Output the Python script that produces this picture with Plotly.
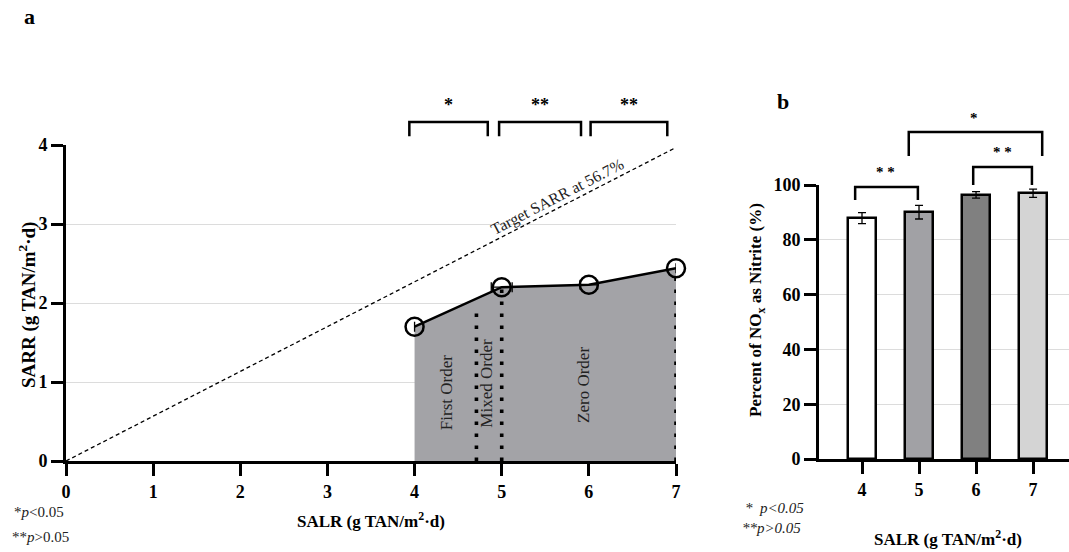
import plotly.graph_objects as go

# ---------------- data ----------------
# panel a
salr = [4, 5, 6, 7]
sarr = [1.70, 2.20, 2.23, 2.44]
salr_err = [0.0, 0.12, 0.10, 0.0]
target_frac = 0.567
target_x = [0, 7]
boundary_x = [4.71, 5.0, 7.0]
boundary_top = [1.91, 2.20, 2.44]
region_labels = ["First Order", "Mixed Order", "Zero Order"]
region_x = [4.36, 4.83, 5.93]
region_y = [0.87, 0.99, 0.96]
sig_a_spans = [(3.94, 4.84), (4.97, 5.91), (6.02, 6.90)]
sig_a_marks = ["*", "**", "**"]

# panel b
bar_x = [4, 5, 6, 7]
bar_vals = [87.9, 90.1, 96.4, 97.0]
bar_err = [2.0, 2.5, 1.2, 1.5]
bar_colors = ["#ffffff", "#a1a1a5", "#808080", "#d4d4d4"]
sig_b = [  # (x0, x1, top, bottom-left, bottom-right, label, label_x, label_y)
    (3.88, 4.98, 99.3, 94.5, 94.5, "* *", 4.42, 104.8),
    (4.82, 7.16, 119.3, 110.6, 110.6, "*", 5.96, 124.6),
    (5.95, 6.98, 106.6, 100.0, 100.0, "* *", 6.47, 112.0),
]

FONT = "Liberation Serif"
W, H = 1069, 552

# domains (paper)
ax_dom_x = [66 / W, 676 / W]
ax_dom_y = [(H - 461) / H, (H - 145) / H]
ax_range_y = [0, 4]
bx_dom_x = [819 / W, 1.0]
bx_dom_y = [(H - 459) / H, (H - 185) / H]
bx_range_y = [0, 100]


def ypa(v):
    return ax_dom_y[0] + (v - ax_range_y[0]) / (ax_range_y[1] - ax_range_y[0]) * (ax_dom_y[1] - ax_dom_y[0])


def ypb(v):
    return bx_dom_y[0] + (v - bx_range_y[0]) / (bx_range_y[1] - bx_range_y[0]) * (bx_dom_y[1] - bx_dom_y[0])


def px(xp, yp):
    return dict(x=xp / W, y=1 - yp / H, xref="paper", yref="paper")


fig = go.Figure()

# ---- panel a ----
fig.add_trace(go.Scatter(
    x=target_x, y=[v * target_frac for v in target_x], mode="lines",
    line=dict(color="black", width=1.3, dash="4px,3px"),
    xaxis="x", yaxis="y", showlegend=False, hoverinfo="skip"))

fig.add_trace(go.Scatter(
    x=salr, y=sarr, mode="lines", fill="tozeroy", fillcolor="#a3a3a7",
    line=dict(width=0, color="#a3a3a7"), xaxis="x", yaxis="y",
    showlegend=False, hoverinfo="skip"))

for bx, bt in zip(boundary_x, boundary_top):
    fig.add_trace(go.Scatter(
        x=[bx, bx], y=[0, bt], mode="lines",
        line=dict(color="black", width=3.6, dash="3.6px,8.4px"),
        xaxis="x", yaxis="y", showlegend=False, hoverinfo="skip"))

fig.add_trace(go.Scatter(
    x=salr, y=sarr, mode="lines+markers",
    line=dict(color="black", width=2.5),
    marker=dict(symbol="circle-open", size=18, color="black", line=dict(width=2.5, color="black")),
    error_x=dict(type="data", array=salr_err, color="black", thickness=1.3, width=5),
    cliponaxis=False, xaxis="x", yaxis="y", showlegend=False))

# ---- panel b ----
fig.add_trace(go.Bar(
    x=bar_x, y=bar_vals, width=0.5,
    marker=dict(color=bar_colors, line=dict(color="black", width=2.5)),
    error_y=dict(type="data", array=bar_err, color="black", thickness=1.3, width=4),
    xaxis="x2", yaxis="y2", showlegend=False))

shapes = []
annotations = []

# significance brackets panel a
for (x0, x1), lab in zip(sig_a_spans, sig_a_marks):
    shapes.append(dict(type="path", xref="x", yref="paper",
                       path=f"M {x0},{ypa(4.11)} L {x0},{ypa(4.29)} L {x1},{ypa(4.29)} L {x1},{ypa(4.11)}",
                       line=dict(color="black", width=2.5)))
    annotations.append(dict(x=(x0 + x1) / 2, y=ypa(4.50), xref="x", yref="paper",
                            xanchor="center", yanchor="middle",
                            text=f"<b>{lab}</b>", showarrow=False,
                            font=dict(family=FONT, size=18, color="black")))

# significance brackets panel b
for x0, x1, top, bl, br, lab, lx, ly in sig_b:
    shapes.append(dict(type="path", xref="x2", yref="paper",
                       path=f"M {x0},{ypb(bl)} L {x0},{ypb(top)} L {x1},{ypb(top)} L {x1},{ypb(br)}",
                       line=dict(color="black", width=2.5)))
    annotations.append(dict(x=lx, y=ypb(ly), xref="x2", yref="paper",
                            xanchor="center", yanchor="middle",
                            text=f"<b>{lab}</b>", showarrow=False,
                            font=dict(family=FONT, size=15, color="black")))

# region labels
for lab, rx, ry in zip(region_labels, region_x, region_y):
    annotations.append(dict(x=rx, y=ry, xref="x", yref="y", text=lab, textangle=-90,
                            xanchor="center", yanchor="middle",
                            showarrow=False, font=dict(family=FONT, size=17, color="#222222")))

# target label
annotations.append(dict(x=5.64, y=3.34, xref="x", yref="y", text="Target SARR at 56.7%",
                        xanchor="center", yanchor="middle",
                        textangle=-27.4, showarrow=False,
                        font=dict(family=FONT, size=16, color="#222222")))

# axis titles & notes
annotations += [
    dict(**px(29, 16), xanchor="center", yanchor="middle", text="<b>a</b>", showarrow=False,
         font=dict(family=FONT, size=22, color="black")),
    dict(**px(783, 102), xanchor="center", yanchor="middle", text="<b>b</b>", showarrow=False,
         font=dict(family=FONT, size=22, color="black")),
    dict(**px(371, 520), xanchor="center", yanchor="middle",
         text="<b>SALR (g TAN/m<sup>2</sup>·d)</b>", showarrow=False,
         font=dict(family=FONT, size=17, color="black")),
    dict(**px(27, 305), xanchor="center", yanchor="middle",
         text="<b>SARR (g TAN/m<sup>2</sup>·d)</b>", textangle=-90, showarrow=False,
         font=dict(family=FONT, size=19, color="black")),
    dict(**px(66, 512), xanchor="right", yanchor="middle",
         text="*<i>p</i><0.05", showarrow=False, font=dict(family=FONT, size=15, color="#222222")),
    dict(**px(71, 537), xanchor="right", yanchor="middle",
         text="**<i>p</i>>0.05", showarrow=False, font=dict(family=FONT, size=15, color="#222222")),
    dict(**px(948, 538), xanchor="center", yanchor="middle",
         text="<b>SALR (g TAN/m<sup>2</sup>·d)</b>", showarrow=False,
         font=dict(family=FONT, size=17, color="black")),
    dict(**px(757, 310), xanchor="center", yanchor="middle",
         text="<b>Percent of NO<sub>x</sub> as Nitrite (%)</b>", textangle=-90, showarrow=False,
         font=dict(family=FONT, size=17, color="black")),
    dict(**px(806, 508), xanchor="right", yanchor="middle",
         text="<i>*  p<0.05</i>", showarrow=False, font=dict(family=FONT, size=15, color="#222222")),
    dict(**px(803, 528), xanchor="right", yanchor="middle",
         text="<i>**p>0.05</i>", showarrow=False, font=dict(family=FONT, size=15, color="#222222")),
]

axis_common = dict(showline=True, linecolor="black", linewidth=3, ticks="outside",
                   ticklen=12, tickwidth=3, tickcolor="black", zeroline=False, automargin=False,
                   tickfont=dict(family=FONT, size=18, color="black", weight="bold"))

fig.update_layout(
    width=W, height=H, margin=dict(l=0, r=0, t=0, b=0, pad=0, autoexpand=False),
    paper_bgcolor="white", plot_bgcolor="white",
    xaxis=dict(domain=ax_dom_x, range=[0, 7], tickvals=list(range(8)), showgrid=False,
               anchor="y", **axis_common),
    yaxis=dict(domain=ax_dom_y, range=ax_range_y, tickvals=[0, 1, 2, 3, 4], showgrid=True,
               gridcolor="#dcdcdc", gridwidth=1, anchor="x", **axis_common),
    xaxis2=dict(domain=bx_dom_x, range=[3.246, 7.63], tickvals=bar_x, showgrid=False,
                anchor="y2", **axis_common),
    yaxis2=dict(domain=bx_dom_y, range=bx_range_y, tickvals=[0, 20, 40, 60, 80, 100],
                showgrid=True, gridcolor="#dcdcdc", gridwidth=1, anchor="x2", **axis_common),
    shapes=shapes, annotations=annotations,
    bargap=0,
)

fig.write_html("out.html")
